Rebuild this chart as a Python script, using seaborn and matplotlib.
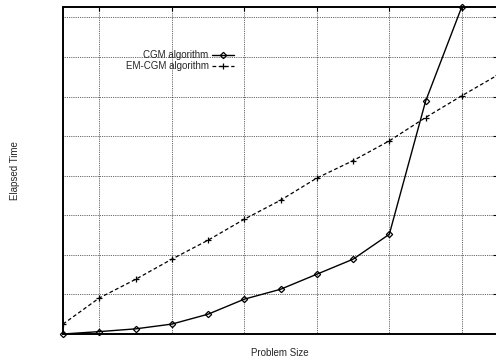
import numpy as np
import pandas as pd
import matplotlib
matplotlib.use("Agg")
import matplotlib.pyplot as plt
import seaborn as sns

# Data
cgm_size = [0, 1, 2, 3, 4, 5, 6, 7, 8, 9, 10, 11]
cgm_time = [0.0, 0.06, 0.13, 0.25, 0.50, 0.88, 1.13, 1.51, 1.89, 2.52, 5.88, 8.27]
em_size = [0, 1, 2, 3, 4, 5, 6, 7, 8, 9, 10, 11, 12]
em_time = [0.25, 0.91, 1.38, 1.89, 2.37, 2.90, 3.38, 3.94, 4.38, 4.88, 5.47, 6.02, 6.55]
x_grid = [1, 3, 5, 7, 9, 11]
y_grid = [1, 2, 3, 4, 5, 6, 7, 8]

sns.set_style("white")
plt.rcParams['font.family'] = ['Liberation Sans', 'DejaVu Sans']

df_cgm = pd.DataFrame({"size": cgm_size, "time": cgm_time})
df_em = pd.DataFrame({"size": em_size, "time": em_time})

fig = plt.figure(figsize=(4.96, 3.6), dpi=100)
ax = fig.add_axes([63/496, 1-334/360, (497-63)/496, (334-6.7)/360])

sns.lineplot(data=df_cgm, x="size", y="time", ax=ax, color="black", lw=1.0,
             marker="D", markersize=3.2, markerfacecolor="none",
             markeredgecolor="black", markeredgewidth=0.9,
             label="CGM algorithm", clip_on=False)
sns.lineplot(data=df_em, x="size", y="time", ax=ax, color="black", lw=0.9,
             linestyle=(0, (3, 2)), marker="+", markersize=4.5,
             markeredgecolor="black", markeredgewidth=0.9,
             label="EM-CGM algorithm")

ax.set_xlim(0, 11.97)
ax.set_ylim(0, 8.27)
ax.set_xticks(x_grid)
ax.set_yticks(y_grid)
ax.tick_params(axis="both", which="both", direction="in", length=3, width=0.8,
               labelbottom=False, labelleft=False, top=True, right=True,
               color="black")
ax.grid(True, color="black", linestyle=(0, (1, 1.2)), linewidth=0.6, alpha=0.8)

for s in ["left", "bottom", "top"]:
    ax.spines[s].set_linewidth(1.4)
    ax.spines[s].set_color("black")
ax.spines["right"].set_visible(False)

ax.set_xlabel("Problem Size", fontsize=7, labelpad=10)
ax.set_ylabel("Elapsed Time", fontsize=7, labelpad=31)

leg = ax.legend(loc="upper right", bbox_to_anchor=((234-63)/434, (334-50)/327.3),
                frameon=False, fontsize=7, markerfirst=False, borderpad=0,
                handlelength=2.3, handletextpad=0.3, labelspacing=0.12,
                borderaxespad=0)

fig.savefig("out.png", dpi=100)
